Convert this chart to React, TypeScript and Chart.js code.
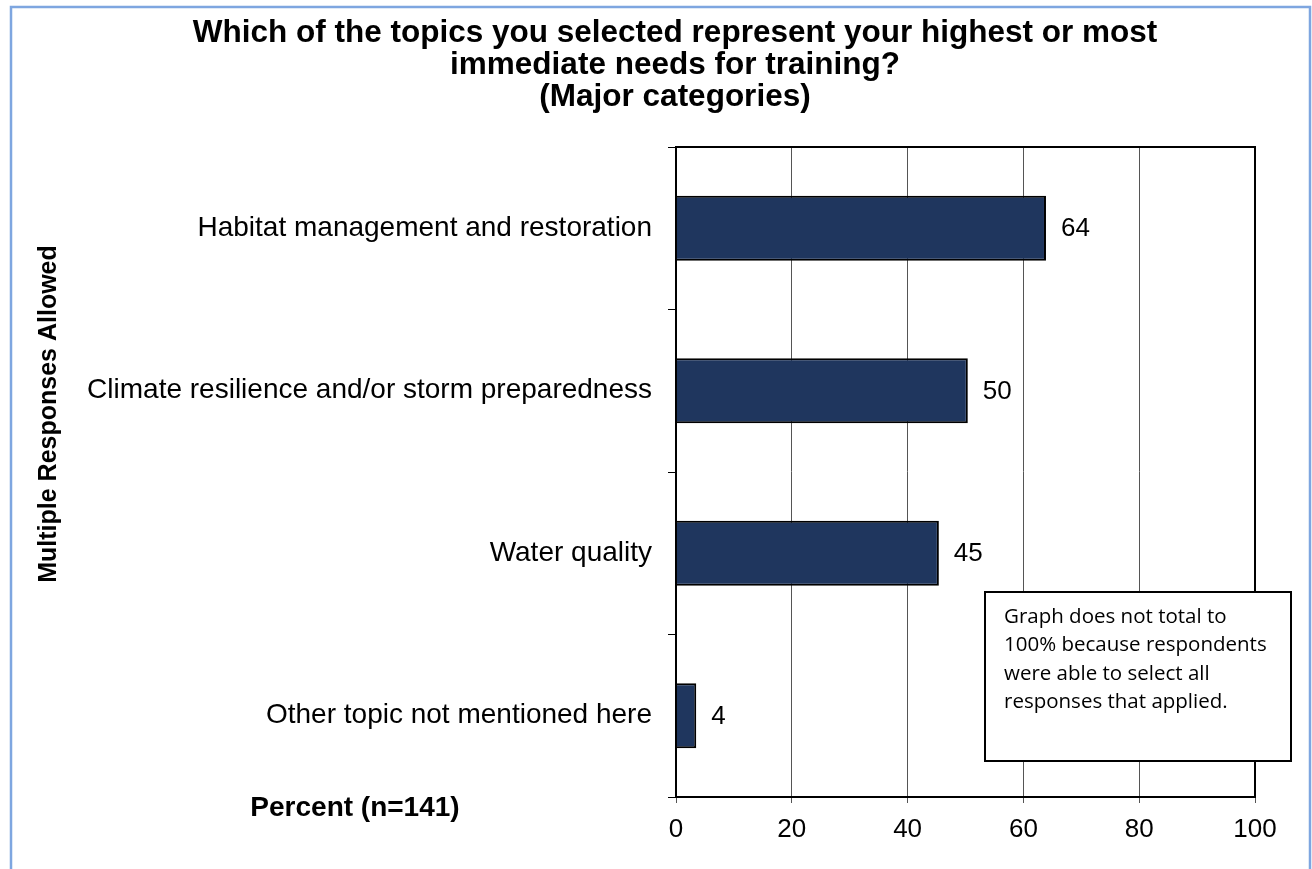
import React, { useEffect, useRef } from "react";
import { Chart, registerables } from "chart.js";

Chart.register(...registerables);

const categories = [
  "Habitat management and restoration",
  "Climate resilience and/or storm preparedness",
  "Water quality",
  "Other topic not mentioned here",
];
const percentValues = [63.9, 50.4, 45.4, 3.5];
const valueLabels = ["64", "50", "45", "4"];
const xTicks = [0, 20, 40, 60, 80, 100];
const titleLines = [
  "Which of the topics you selected represent your highest or most",
  "immediate needs for training?",
  "(Major categories)",
];
const yAxisTitle = "Multiple Responses Allowed";
const xAxisTitle = "Percent (n=141)";
const noteLines = [
  "Graph does not total to",
  "100% because respondents",
  "were able to select all",
  "responses that applied.",
];

const SANS = "'Liberation Sans', Arial, sans-serif";

const overlay = {
  id: "overlay",
  afterDraw(chart: any) {
    const ctx = chart.ctx as CanvasRenderingContext2D;
    const a = chart.chartArea;
    ctx.save();
    // plot frame
    ctx.strokeStyle = "#000";
    ctx.lineWidth = 2;
    ctx.strokeRect(a.left, a.top, a.right - a.left, a.bottom - a.top);

    // value labels
    const meta = chart.getDatasetMeta(0);
    ctx.fillStyle = "#000";
    ctx.font = `26px ${SANS}`;
    ctx.textAlign = "left";
    ctx.textBaseline = "middle";
    meta.data.forEach((bar: any, i: number) => {
      ctx.fillText(valueLabels[i], bar.x + 15, bar.y + 1);
    });

    // title
    ctx.font = `bold 31.5px ${SANS}`;
    ctx.textAlign = "center";
    const ys = [33, 65, 97];
    titleLines.forEach((t, i) => ctx.fillText(t, 675, ys[i]));

    // y axis title
    ctx.save();
    ctx.translate(49, 414);
    ctx.rotate(-Math.PI / 2);
    ctx.font = `bold 25px ${SANS}`;
    ctx.fillText(yAxisTitle, 0, 0);
    ctx.restore();

    // x axis caption
    ctx.font = `bold 28px ${SANS}`;
    ctx.textAlign = "center";
    ctx.fillText(xAxisTitle, 355, 808);

    // note box
    ctx.fillStyle = "#fff";
    ctx.fillRect(985, 592, 306, 169);
    ctx.strokeStyle = "#000";
    ctx.lineWidth = 2;
    ctx.strokeRect(985, 592, 306, 169);
    ctx.fillStyle = "#000";
    ctx.font = `20.5px 'Open Sans', sans-serif`;
    ctx.textAlign = "left";
    ctx.textBaseline = "alphabetic";
    noteLines.forEach((t, i) => ctx.fillText(t, 1004, 623 + i * 28.4));

    // outer light-blue frame
    ctx.strokeStyle = "#7ea6e0";
    ctx.lineWidth = 2.5;
    ctx.beginPath();
    ctx.moveTo(11, 869);
    ctx.lineTo(11, 7);
    ctx.lineTo(1310, 7);
    ctx.lineTo(1310, 869);
    ctx.stroke();
    ctx.restore();
  },
};

export default function App() {
  const ref = useRef<HTMLCanvasElement | null>(null);
  useEffect(() => {
    if (!ref.current) return;
    const chart = new Chart(ref.current, {
      type: "bar",
      data: {
        labels: categories,
        datasets: [
          {
            data: percentValues,
            backgroundColor: "#1f365e",
            borderColor: "#000",
            borderWidth: 2,
            categoryPercentage: 1,
            barPercentage: 0.4,
          },
        ],
      },
      options: {
        indexAxis: "y",
        responsive: false,
        animation: false,
        layout: { padding: { top: 147, right: 57, bottom: 0, left: 0 } },
        plugins: {
          legend: { display: false },
          title: { display: false },
          tooltip: { enabled: false },
        },
        scales: {
          x: {
            min: 0,
            max: 100,
            afterBuildTicks: (s: any) => {
              s.ticks = xTicks.map((v) => ({ value: v }));
            },
            afterFit: (s: any) => {
              s.height = 72;
            },
            ticks: {
              color: "#000",
              font: { family: SANS, size: 26 },
              padding: 11,
              maxRotation: 0,
            },
            grid: { color: "#555", lineWidth: 1, tickLength: 6 },
            border: { color: "#000", width: 2 },
          },
          y: {
            afterFit: (s: any) => {
              s.width = 676;
            },
            ticks: {
              color: "#000",
              font: { family: SANS, size: 28 },
              padding: 16,
            },
            grid: {
              drawOnChartArea: false,
              tickLength: 8,
              color: "#000",
              offset: true,
            },
            border: { color: "#000", width: 2 },
          },
        },
      },
      plugins: [overlay],
    } as any);
    return () => chart.destroy();
  }, []);
  return (
    <div
      style={{
        position: "absolute",
        left: 0,
        top: 0,
        width: 1312,
        height: 869,
        background: "#fff",
      }}
    >
      <canvas ref={ref} width={1312} height={869} />
    </div>
  );
}
